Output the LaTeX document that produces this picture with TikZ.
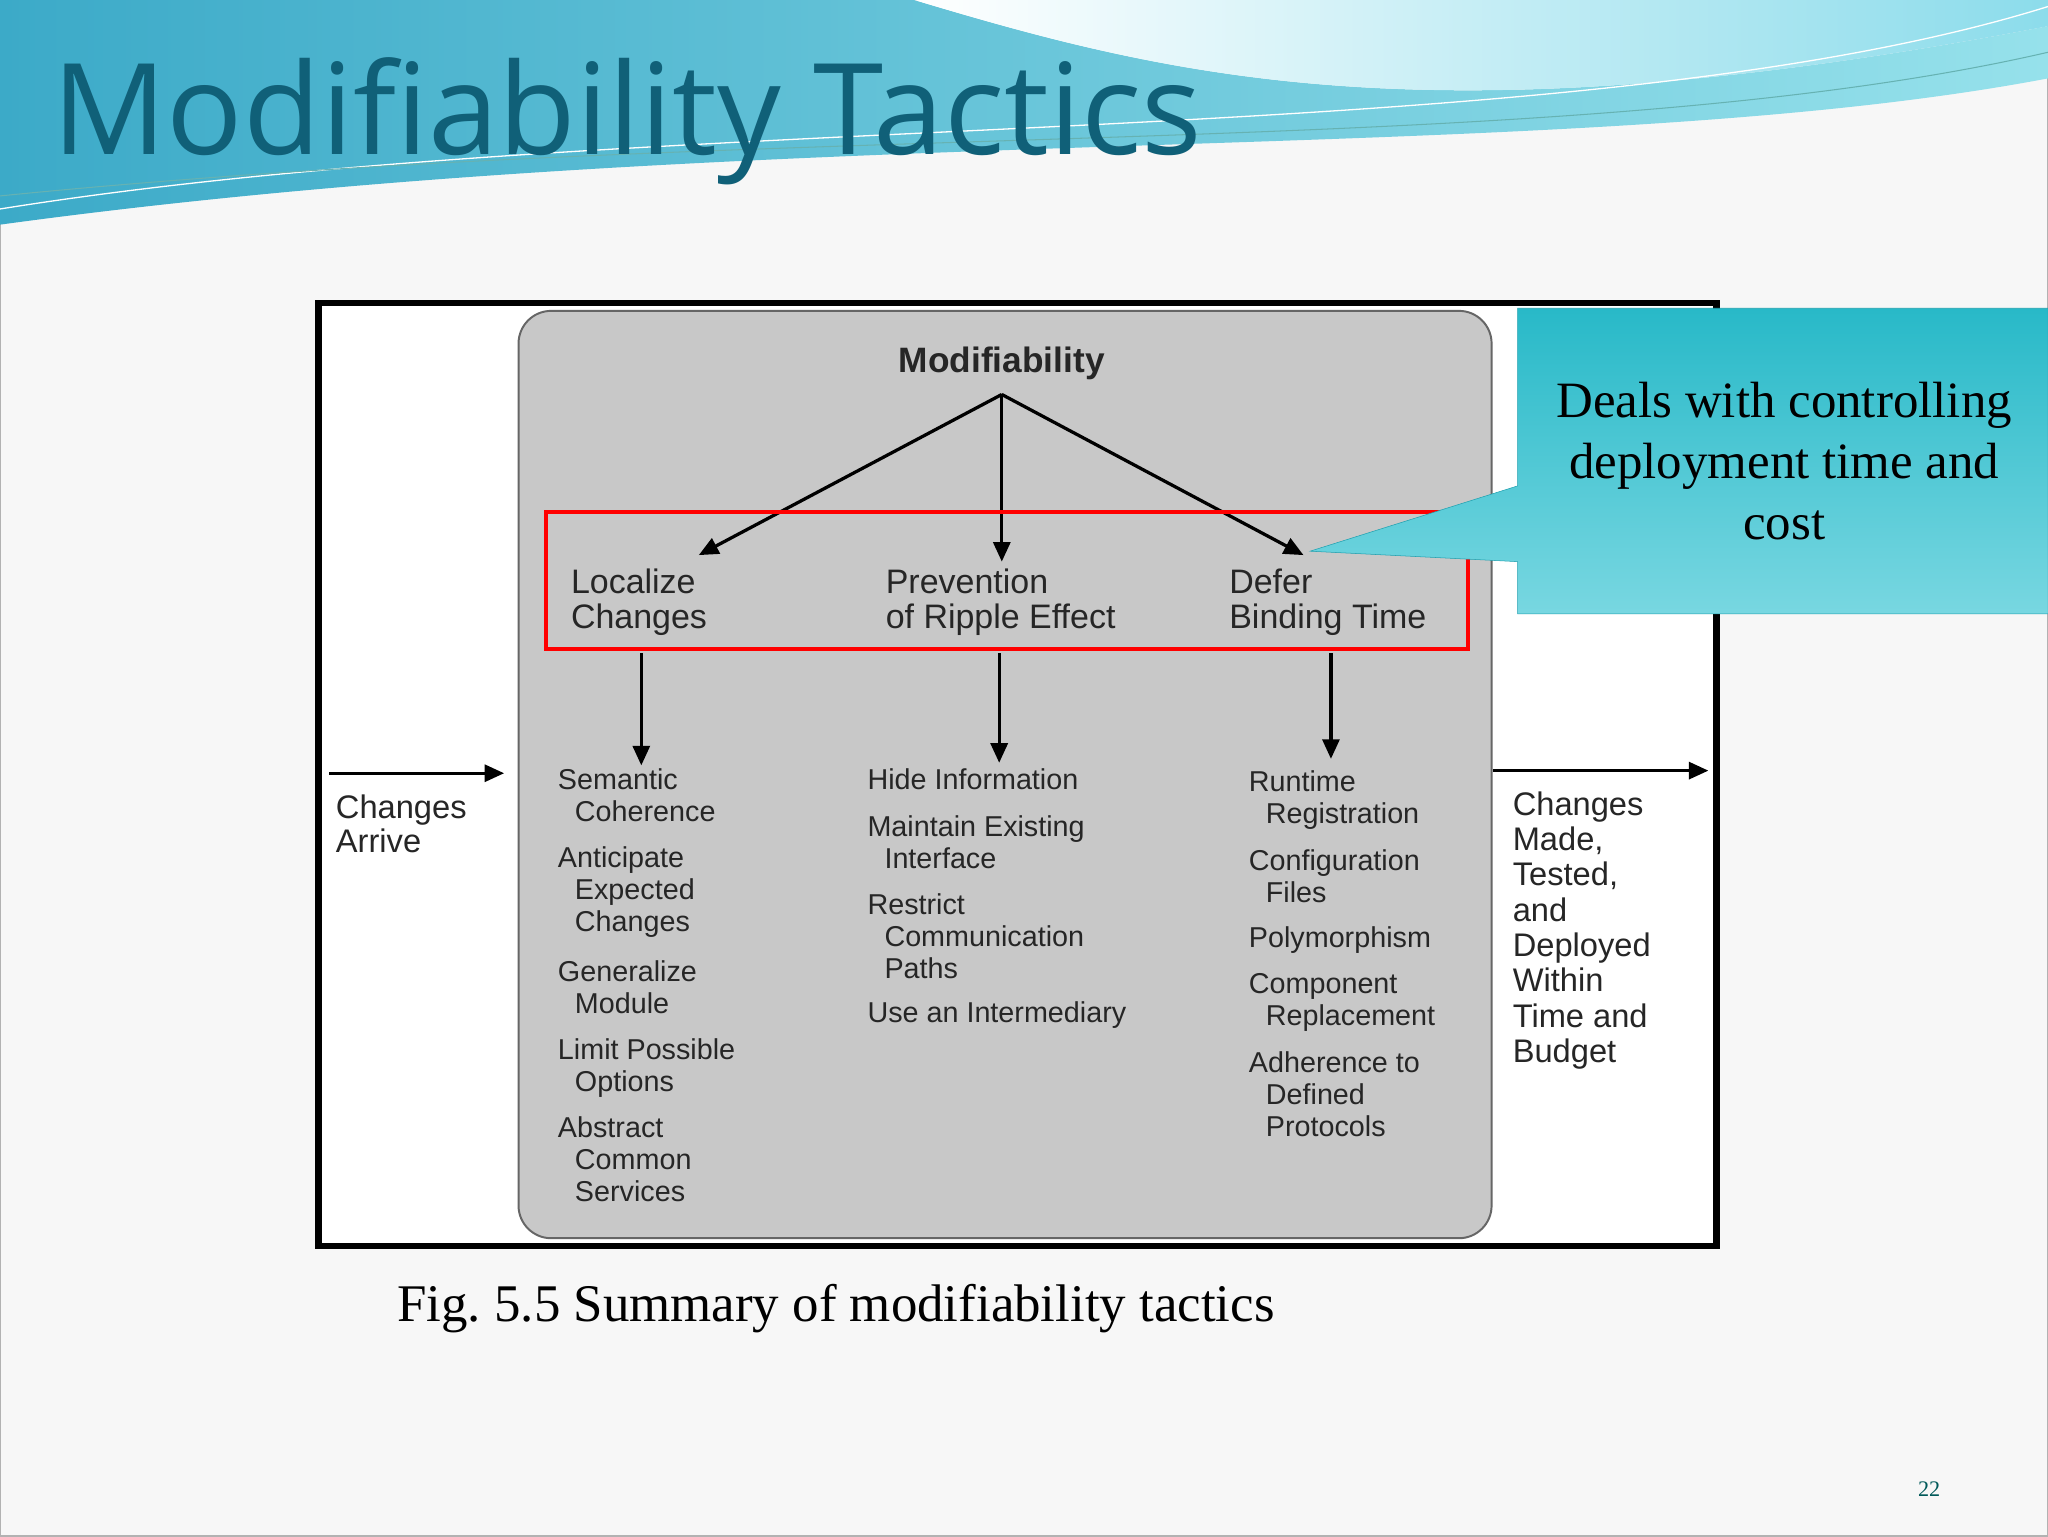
\documentclass[tikz,border=0pt]{standalone}
\usepackage{fontspec}
\setmainfont{Liberation Serif}
\newfontfamily\hv{Liberation Sans}
\newfontfamily\op{Open Sans}
\usetikzlibrary{arrows.meta}
\begin{document}
\frenchspacing
\begin{tikzpicture}[x=1pt,y=-1pt,
 itm/.style={anchor=north west,align=left,font=\hv\fontsize{22}{24.5}\selectfont,inner sep=0pt,text=black!85},
 hd/.style={anchor=north west,align=left,font=\hv\fontsize{26}{27}\selectfont,inner sep=0pt,text=black!85},
 arr/.style={line width=2.5pt,-{Triangle[length=15pt,width=13pt]}}]
\useasboundingbox (0,0) rectangle (1568,1176);
\fill[gray!6] (0,0) rectangle (1568,1176);
\draw[gray!60,line width=1pt] (0,0) rectangle (1568,1176);
% wave
\shade[left color={rgb,255:red,60;green,170;blue,200},right color={rgb,255:red,150;green,225;blue,235}] (0,0)--(700,0) .. controls (900,60) and (1100,110) .. (1568,20)--(1568,60) .. controls (1200,130) and (600,90) .. (0,172) -- cycle;
\shade[left color=white,right color={rgb,255:red,140;green,220;blue,235}] (700,0) .. controls (900,60) and (1100,110) .. (1568,20) -- (1568,0) -- cycle;
\draw[white,line width=1pt] (0,160) .. controls (500,80) and (1200,120) .. (1568,5);
\draw[teal!60,line width=0.8pt] (0,150) .. controls (600,90) and (1200,125) .. (1568,40);
\node[anchor=base west,inner sep=0pt,font=\op\fontsize{97}{97}\selectfont,text={rgb,255:red,16;green,96;blue,120}] (title) at (40,118) {Modifiability Tactics};
% frame
\fill[white] (244,232) rectangle (1314,954);
\draw[line width=5pt] (244,232) rectangle (1314,954);
\draw[fill={rgb,255:red,200;green,200;blue,200},draw=black!60,line width=1.5pt,rounded corners=25pt] (397,238) rectangle (1142,948);
\node[font=\hv\bfseries\fontsize{27}{28}\selectfont,text=black!85] (mod) at (767,278) {Modifiability};
\coordinate (top) at (767,302);
\coordinate (a1) at (535,425); \coordinate (a2) at (767,430); \coordinate (a3) at (998,425);
\draw[arr] (top)--(a1); \draw[arr] (top)--(a2); \draw[arr] (top)--(a3);
\draw[red,line width=3pt] (418,392) rectangle (1124,497);
\node[hd] (loc) at (437,435) {Localize\\Changes};
\node[hd] (pre) at (678,435) {Prevention\\of Ripple Effect};
\node[hd] (def) at (941,435) {Defer\\Binding Time};
\coordinate (d1s) at (491,500); \coordinate (d1e) at (491,586);
\coordinate (d2s) at (765,500); \coordinate (d2e) at (765,584);
\coordinate (d3s) at (1019,500); \coordinate (d3e) at (1019,581);
\draw[arr] (d1s)--(d1e); \draw[arr] (d2s)--(d2e); \draw[arr] (d3s)--(d3e);
% left column
\node[itm] (l1) at (427,588) {Semantic\\\hspace*{13pt}Coherence};
\node[itm] (l2) at (427,648) {Anticipate\\\hspace*{13pt}Expected\\\hspace*{13pt}Changes};
\node[itm] (l3) at (427,735) {Generalize\\\hspace*{13pt}Module};
\node[itm] (l4) at (427,795) {Limit Possible\\\hspace*{13pt}Options};
\node[itm] (l5) at (427,855) {Abstract\\\hspace*{13pt}Common\\\hspace*{13pt}Services};
% middle
\node[itm] (m1) at (664,588) {Hide Information};
\node[itm] (m2) at (664,624) {Maintain Existing\\\hspace*{13pt}Interface};
\node[itm] (m3) at (664,684) {Restrict\\\hspace*{13pt}Communication\\\hspace*{13pt}Paths};
\node[itm] (m4) at (664,767) {Use an Intermediary};
% right
\node[itm] (r1) at (956,590) {Runtime\\\hspace*{13pt}Registration};
\node[itm] (r2) at (956,650) {Configuration\\\hspace*{13pt}Files};
\node[itm] (r3) at (956,709) {Polymorphism};
\node[itm] (r4) at (956,745) {Component\\\hspace*{13pt}Replacement};
\node[itm] (r5) at (956,805) {Adherence to\\\hspace*{13pt}Defined\\\hspace*{13pt}Protocols};
% side arrows
\coordinate (ca1) at (252,592); \coordinate (ca2) at (386,592);
\draw[arr] (ca1)--(ca2);
\node[hd,font=\hv\fontsize{25}{26.5}\selectfont] (arrive) at (257,608) {Changes\\Arrive};
\coordinate (cm1) at (1143,590); \coordinate (cm2) at (1308,590);
\draw[arr] (cm1)--(cm2);
\node[hd,font=\hv\fontsize{25}{27}\selectfont] (made) at (1158,606) {Changes\\Made,\\Tested,\\and\\Deployed\\Within\\Time and\\Budget};
% callout
\shade[top color={rgb,255:red,40;green,185;blue,200},bottom color={rgb,255:red,120;green,215;blue,225},draw={rgb,255:red,30;green,160;blue,175}] (1162,236)--(1568,236)--(1568,470)--(1162,470)--(1162,430)--(1003,422)--(1162,372)--cycle;
\node[align=center,font=\fontsize{39}{47}\selectfont] (note) at (1366,353) {Deals with controlling\\deployment time and\\cost};
\node[anchor=base west,inner sep=0pt,font=\fontsize{40.5}{40.5}\selectfont] (cap) at (304,1012) {Fig. 5.5 Summary of modifiability tactics};
\node[font=\fontsize{17}{17}\selectfont,text=teal!70!black] (pg) at (1477,1140) {22};
\end{tikzpicture}
\end{document}
